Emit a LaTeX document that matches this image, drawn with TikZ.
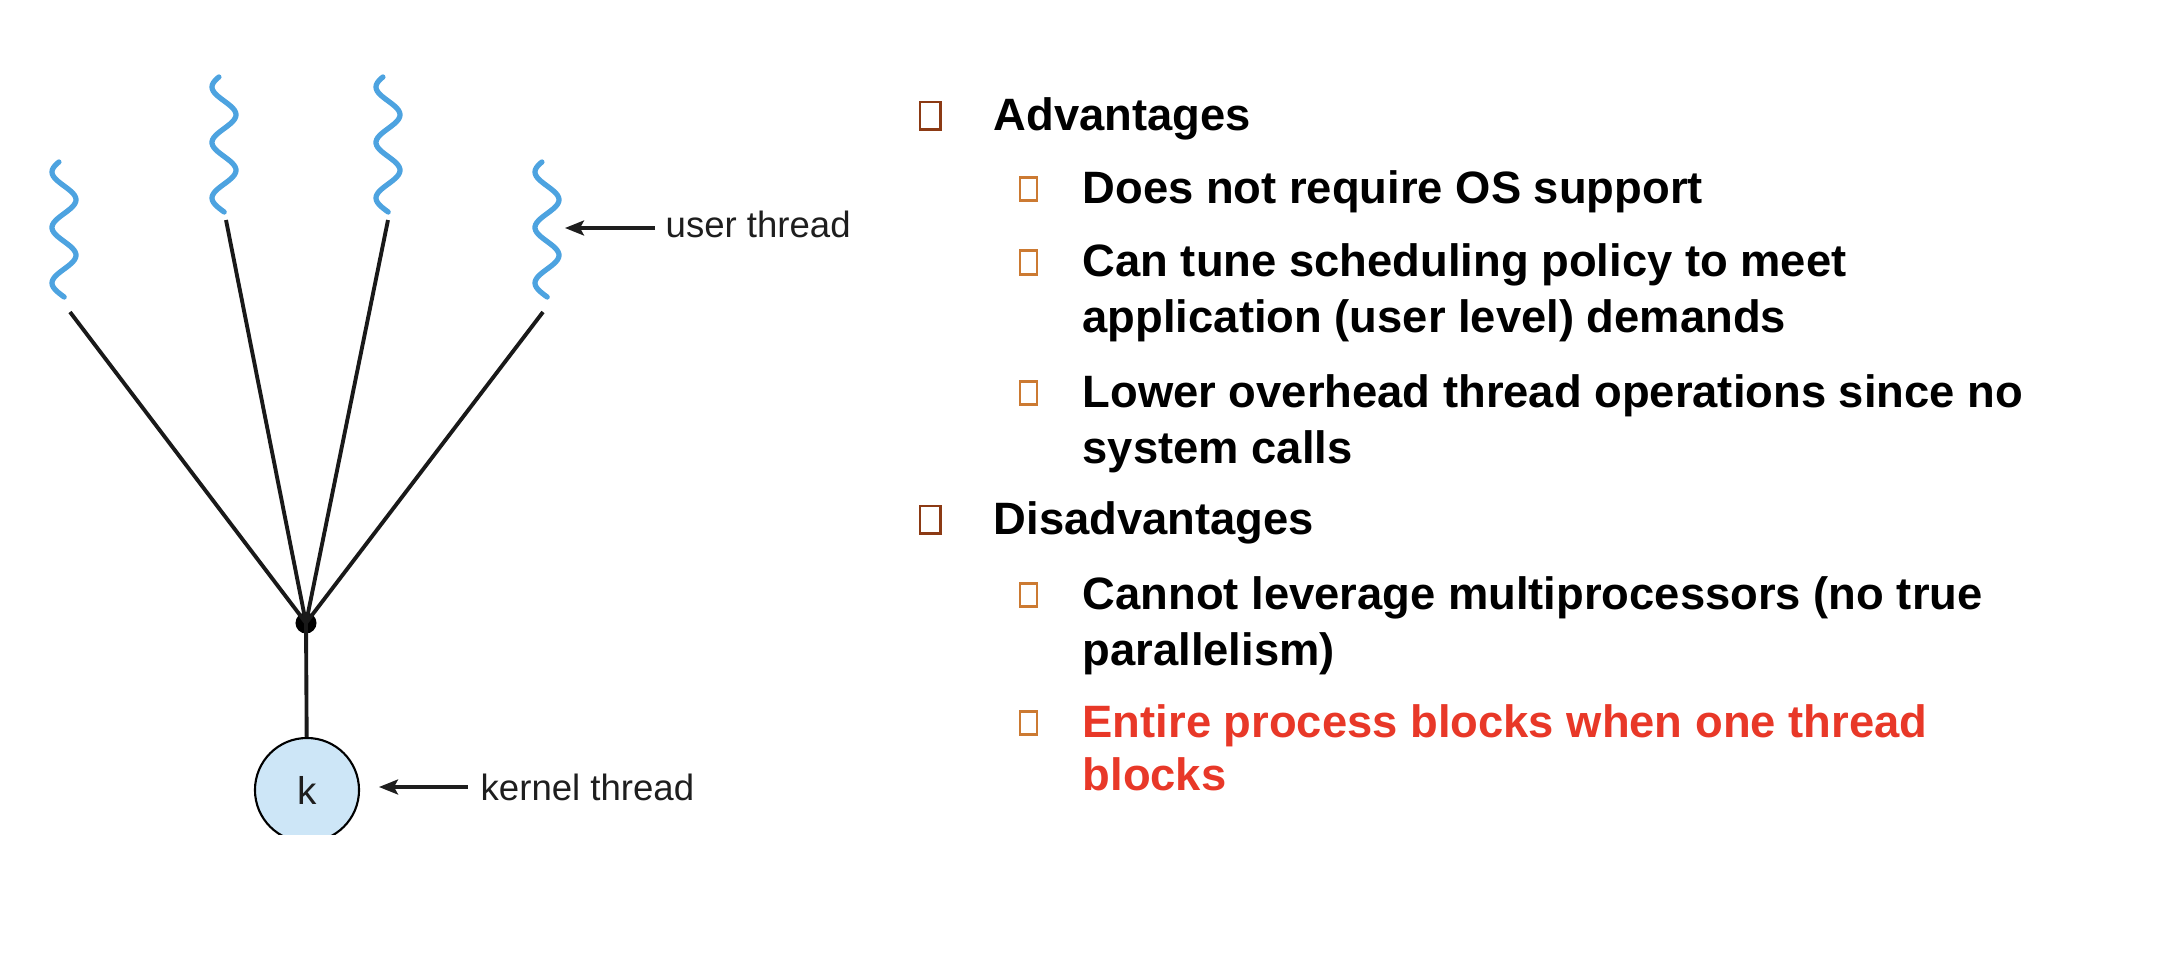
\documentclass[tikz,border=0pt]{standalone}
\usepackage{fontspec}
\setmainfont{Liberation Sans}
\usetikzlibrary{arrows.meta}
\definecolor{wave}{RGB}{77,163,224}
\definecolor{kfill}{RGB}{205,230,247}
\definecolor{bulA}{RGB}{140,58,20}
\definecolor{bulB}{RGB}{204,122,50}
\definecolor{redtxt}{RGB}{232,56,40}
\definecolor{lbl}{RGB}{30,30,30}
\begin{document}
\begin{tikzpicture}[x=0.01cm,y=-0.01cm,
  wavy/.style={wave,line width=1.5pt,line cap=round},
  conn/.style={black!90,line width=1.1pt},
  ptr/.style={lbl,line width=0.9pt,-{Stealth[length=0.19cm,width=0.15cm,inset=0.04cm]}},
  lbltext/.style={font=\fontsize{10.4}{12}\selectfont,text=lbl,anchor=base west,inner sep=0},
  itemtext/.style={font=\bfseries\fontsize{12.9}{15}\selectfont,anchor=base west,inner sep=0},
  bulletone/.style={draw=bulA,line width=0.85pt,minimum width=0.2cm,minimum height=0.27cm,inner sep=0,outer sep=0},
  bullettwo/.style={draw=bulB,line width=0.75pt,minimum width=0.17cm,minimum height=0.235cm,inner sep=0,outer sep=0}]
\useasboundingbox (0,0) rectangle (2181,969);

% user threads (squiggles)
\foreach \n/\xc/\tp in {1/64/162,2/224/77,3/388/77,4/547/162}{
  \draw[wavy] plot[domain=0:135,samples=70,smooth] ({\xc-12*cos((\x-10)*6.4865)},{\tp+\x});
}
\coordinate (u1) at (70,312);
\coordinate (u2) at (226,220);
\coordinate (u3) at (388,220);
\coordinate (u4) at (543,312);

\node[circle,fill=black,minimum size=0.21cm,inner sep=0] (hub) at (306,623) {};
\draw[conn] (u1) -- (hub.center);
\draw[conn] (u2) -- (hub.center);
\draw[conn] (u3) -- (hub.center);
\draw[conn] (u4) -- (hub.center);

\begin{scope}
  \clip (200,600) rectangle (420,834);
  \node[circle,draw=black,line width=0.6pt,fill=kfill,minimum size=1.04cm,inner sep=0,font=\fontsize{11}{12}\selectfont,text=lbl] (k) at (307,790) {k};
\end{scope}
\draw[conn] (hub.center) -- (k);

% labels
\node[lbltext] (ut) at (665,237) {user thread};
\coordinate (utip) at (565,228);
\draw[ptr] ([xshift=-0.1cm]ut.west |- utip) -- (utip);

\node[lbltext] (kt) at (480,800) {kernel thread};
\coordinate (ktip) at (379,787);
\draw[ptr] ([xshift=-0.12cm]kt.west |- ktip) -- (ktip);

% bullets
\node[bulletone] (b1) at (930,115.5) {};
\node[bulletone] (b5) at (930,519.5) {};
\node[bullettwo] (b2) at (1028.5,189) {};
\node[bullettwo] (b3) at (1028.5,262.5) {};
\node[bullettwo] (b4) at (1028.5,393) {};
\node[bullettwo] (b6) at (1028.5,595) {};
\node[bullettwo] (b7) at (1028.5,723) {};

% texts
\node[itemtext] (t1) at (993,130.5) {Advantages};
\node[itemtext] (t2) at (1082,203) {Does not require OS support};
\node[itemtext] (t3) at (1082,276.5) {Can tune scheduling policy to meet};
\node[itemtext] (t4) at (1082,332) {application (user level) demands};
\node[itemtext] (t5) at (1082,407) {Lower overhead thread operations since no};
\node[itemtext] (t6) at (1082,463) {system calls};
\node[itemtext] (t7) at (993,534) {Disadvantages};
\node[itemtext] (t8) at (1082,609) {Cannot leverage multiprocessors (no true};
\node[itemtext] (t9) at (1082,665) {parallelism)};
\node[itemtext,text=redtxt] (t10) at (1082,737) {Entire process blocks when one thread};
\node[itemtext,text=redtxt] (t11) at (1082,790) {blocks};
\end{tikzpicture}
\end{document}
